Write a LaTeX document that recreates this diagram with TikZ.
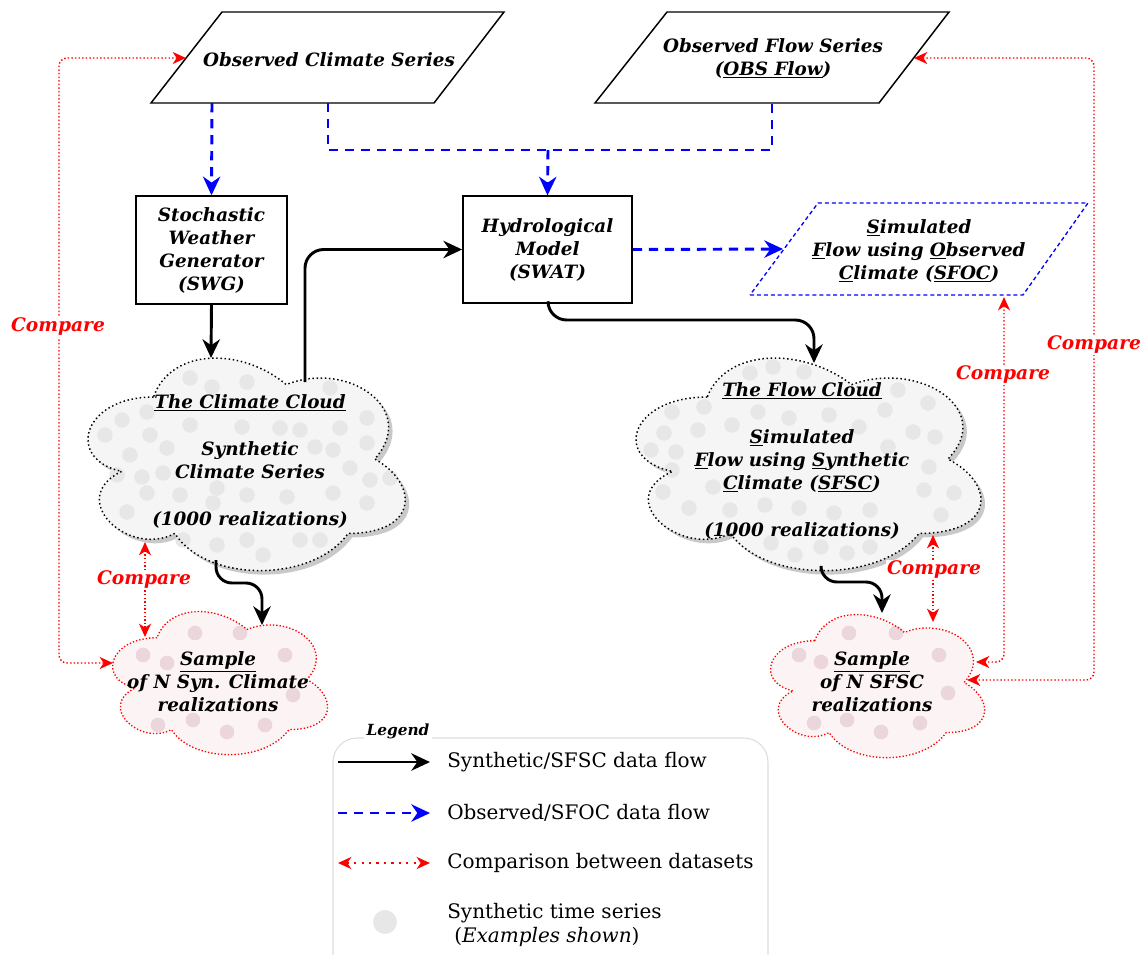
\documentclass[tikz,border=0pt]{standalone}
\usepackage{fontspec}
\setmainfont{DejaVu Serif}
\usetikzlibrary{arrows.meta,calc}
\definecolor{cloudfill}{HTML}{F5F5F5}
\definecolor{blobgray}{HTML}{E7E7E7}
\definecolor{samplefill}{HTML}{FCF4F4}
\definecolor{blobpink}{HTML}{EAD6DB}
\definecolor{legendline}{HTML}{DDDDDD}
\definecolor{cmpred}{HTML}{FF0000}
\definecolor{obsblue}{HTML}{0000FF}
\newcommand\lbl{\fontsize{13.75}{17.25}\selectfont\bfseries\itshape}
\newcommand\cmpfont{\fontsize{14}{17}\selectfont\bfseries\itshape}
\newcommand\lgd{\fontsize{15}{18}\selectfont}
\tikzset{
  cloudpath/.style={insert path={(0.25,0.25) .. controls (0.05,0.25) and (0,0.5) .. (0.16,0.55) .. controls (0,0.66) and (0.18,0.9) .. (0.31,0.8) .. controls (0.4,1) and (0.7,1) .. (0.8,0.8) .. controls (1,0.8) and (1,0.6) .. (0.875,0.5) .. controls (1,0.3) and (0.8,0.1) .. (0.625,0.2) .. controls (0.5,0.05) and (0.3,0.05) .. (0.25,0.25) -- cycle}},
  txt/.style={font=\lbl, align=center, inner sep=1pt},
  box/.style={draw, line width=1.1pt, font=\lbl, align=center, inner sep=2pt},
  para/.style={draw, line width=1.1pt, line join=miter},
  blk/.style={line width=2.2pt, -{Stealth[length=14pt,width=13pt,inset=4.5pt]}},
  blu/.style={draw=obsblue, line width=2.2pt, dash pattern=on 7pt off 5pt},
  bluarr/.style={blu, -{Stealth[length=14pt,width=13pt,inset=4.5pt,fill=obsblue]}},
  cmp/.style={draw=cmpred, line width=1.1pt, dash pattern=on 1.1pt off 1.6pt, rounded corners=6pt,
     {Stealth[length=10pt,width=9pt,inset=3pt,fill=cmpred]}-{Stealth[length=10pt,width=9pt,inset=3pt,fill=cmpred]}},
  cmplbl/.style={font=\cmpfont, text=cmpred, fill=white, inner sep=1pt},
  blob/.style={fill=blobgray},
  pblob/.style={fill=blobpink},
}
\begin{document}
\begin{tikzpicture}[x=0.75pt,y=-0.75pt]
\useasboundingbox (0,0) rectangle (1145,954);

% ---------- top parallelograms ----------
\draw[para] (151,103) -- (434,103) -- (504,12) -- (222,12) -- cycle;
\node[txt] (ocs) at (329,60) {Observed Climate Series};
\draw[para] (595,103) -- (879,103) -- (949,12) -- (667,12) -- cycle;
\node[txt] (ofs) at (773,58) {Observed Flow Series\\(\underline{OBS Flow})};

% ---------- boxes ----------
\node[box, minimum width=113pt, minimum height=81pt] (swg) at (211.5,250) {Stochastic\\Weather\\Generator\\(SWG)};
\node[box, minimum width=127pt, minimum height=80pt] (swat) at (547.5,249.5) {Hydrological\\Model\\(SWAT)};

% ---------- SFOC parallelogram ----------
\draw[draw=obsblue, line width=1pt, dash pattern=on 3pt off 2.2pt] (750,295) -- (1023,295) -- (1088,203) -- (818,203) -- cycle;
\node[txt] (sfoc) at (919,251) {\underline{S}imulated\\\underline{F}low using \underline{O}bserved\\\underline{C}limate (\underline{SFOC})};

% ---------- Climate cloud ----------
\begin{scope}[shift={(69,339)},xscale=354,yscale=248]
  \path[fill=black!30, opacity=0.7, cloudpath];
\end{scope}
\begin{scope}[shift={(65,335)},xscale=354,yscale=248]
  \path[fill=cloudfill, cloudpath];
\end{scope}
\foreach \p in {(190,378),(212,387),(247,382),(330,388),(122,420),(147,412),(190,425),(242,427),(280,428),(300,430),(340,428),(367,418),(105,435),(150,435),(167,448),(130,455),(315,447),(333,450),(367,443),(117,475),(142,477),(163,473),(350,468),(370,480),(390,478),(147,493),(180,495),(217,488),(247,495),(287,497),(333,493),(367,503),(127,512),(213,503),(183,540),(217,545),(247,540),(300,540),(320,540),(263,555)}
  \fill[blob] \p circle[radius=5.8pt];
\begin{scope}[shift={(65,335)},xscale=354,yscale=248]
  \path[draw=black, line width=1.1pt, dash pattern=on 1.1pt off 2pt, cloudpath];
\end{scope}
\node[txt] (ccloud) at (250,461) {\underline{The Climate Cloud}\\[18pt]Synthetic\\Climate Series\\[18pt](1000 realizations)};

% ---------- Flow cloud ----------
\begin{scope}[shift={(615,339)},xscale=385,yscale=248]
  \path[fill=black!30, opacity=0.7, cloudpath];
\end{scope}
\begin{scope}[shift={(611,335)},xscale=385,yscale=248]
  \path[fill=cloudfill, cloudpath];
\end{scope}
\foreach \p in {(750,373),(773,367),(804,372),(898,390),(928,403),(672,412),(704,407),(758,412),(789,418),(829,415),(885,410),(664,433),(698,430),(732,425),(859,427),(913,432),(935,437),(651,450),(676,452),(888,447),(672,470),(713,487),(929,467),(954,493),(663,492),(689,508),(730,510),(765,505),(799,508),(834,513),(870,510),(924,490),(941,515),(771,543),(795,555),(821,547),(847,553),(870,547)}
  \fill[blob] \p circle[radius=5.8pt];
\begin{scope}[shift={(611,335)},xscale=385,yscale=248]
  \path[draw=black, line width=1.1pt, dash pattern=on 1.1pt off 2pt, cloudpath];
\end{scope}
\node[txt] (fcloud) at (802,461) {\underline{The Flow Cloud}\\[18pt]\underline{S}imulated\\\underline{F}low using \underline{S}ynthetic\\\underline{C}limate (\underline{SFSC})\\[18pt](1000 realizations)};

% ---------- Sample clouds ----------
\begin{scope}[shift={(97,596)},xscale=240,yscale=167]
  \path[fill=samplefill, cloudpath];
\end{scope}
\foreach \p in {(195,633),(240,633),(143,655),(167,663),(285,655),(293,695),(158,725),(193,720),(227,732),(265,725)}
  \fill[pblob] \p circle[radius=5.5pt];
\begin{scope}[shift={(97,596)},xscale=240,yscale=167]
  \path[draw=cmpred, line width=1pt, dash pattern=on 1pt off 1.5pt, cloudpath];
\end{scope}
\node[txt] (csample) at (218,682) {\underline{Sample}\\of N Syn. Climate\\realizations};

\begin{scope}[shift={(755,599)},xscale=239,yscale=167]
  \path[fill=samplefill, cloudpath];
\end{scope}
\foreach \p in {(849,633),(896,633),(799,655),(821,662),(939,655),(948,693),(814,723),(847,720),(881,732),(920,723)}
  \fill[pblob] \p circle[radius=5.5pt];
\begin{scope}[shift={(755,599)},xscale=239,yscale=167]
  \path[draw=cmpred, line width=1pt, dash pattern=on 1pt off 1.5pt, cloudpath];
\end{scope}
\node[txt] (fsample) at (872,682) {\underline{Sample}\\of N SFSC\\realizations};

% ---------- named coordinates ----------
\coordinate (ocsA) at (212,103);
\coordinate (ocsB) at (328,103);
\coordinate (ofsB) at (772,103);
\coordinate (obsJ) at (548,150);
\coordinate (ccTop) at (211,358);
\coordinate (ccOut) at (305,382);
\coordinate (sfocL) at (783,249);
\coordinate (fcTop) at (814,363);
\coordinate (ccBot) at (216,560);
\coordinate (csTop) at (262,625);
\coordinate (fcBot) at (821,570);
\coordinate (fsTop) at (882,613);
\coordinate (ocsL) at (186,58);
\coordinate (csL) at (113,663);
\coordinate (ofsR) at (914,58);
\coordinate (fsR1) at (967,680);
\coordinate (fsR2) at (976,662);
\coordinate (sfocB) at (1004,297);
\coordinate (ccB2) at (145,542);
\coordinate (csT2) at (145,637);
\coordinate (fcB2) at (933,535);
\coordinate (fsT2) at (933,622);

% ---------- blue data flow ----------
\draw[bluarr] (ocsA) -- (swg.north);
\draw[blu] (ocsB) |- (ofsB |- obsJ) -- (ofsB);
\draw[bluarr] (obsJ) -- (swat.north);
\draw[bluarr] (swat.east) -- (sfocL);

% ---------- black data flow ----------
\draw[blk] (swg.south) -- (ccTop);
\draw[blk, rounded corners=14pt] (ccOut) |- (swat.west);
\draw[blk, rounded corners=14pt] (swat.south -| obsJ) |- (fcTop |- 0,320) -- (fcTop);
\draw[blk, rounded corners=12pt] (ccBot) |- (csTop |- 0,583) -- (csTop);
\draw[blk, rounded corners=12pt] (fcBot) |- (fsTop |- 0,582) -- (fsTop);

% ---------- comparisons ----------
\draw[cmp] (ocsL) -- (59,58) -- (59,663) -- (csL);
\draw[cmp] (ofsR) -- (1094,58) -- (1094,680) -- (fsR1);
\draw[cmp] (sfocB) -- (1004,662) -- (fsR2);
\draw[cmp] (ccB2) -- (csT2);
\draw[cmp] (fcB2) -- (fsT2);
\node[cmplbl] (c1) at (58,327) {Compare};
\node[cmplbl] (c2) at (1094,345) {Compare};
\node[cmplbl] (c3) at (1003,375) {Compare};
\node[cmplbl] (c4) at (144,580) {Compare};
\node[cmplbl] (c5) at (934,570) {Compare};

% ---------- legend ----------
\draw[legendline, line width=0.8pt, rounded corners=18pt] (333,738) rectangle (768,1000);
\node[font=\fontsize{11.5}{13}\selectfont\bfseries\itshape, fill=white, inner sep=2pt] (lgdtitle) at (398,731) {Legend};
\coordinate (l1a) at (338,762); \coordinate (l1b) at (430,762);
\coordinate (l2a) at (338,813); \coordinate (l2b) at (430,813);
\coordinate (l3a) at (338,863); \coordinate (l3b) at (430,863);
\draw[blk] (l1a) -- (l1b);
\draw[bluarr] (l2a) -- (l2b);
\draw[cmp, line width=1.6pt, dash pattern=on 1.6pt off 4pt] (l3a) -- (l3b);
\fill[blobgray] (385,922) circle[radius=9pt];
\node[font=\lgd, anchor=west, inner sep=0pt] (lt1) at (447,762) {Synthetic/SFSC data flow};
\node[font=\lgd, anchor=west, inner sep=0pt] (lt2) at (447,813) {Observed/SFOC data flow};
\node[font=\lgd, anchor=west, inner sep=0pt] (lt3) at (447,863) {Comparison between datasets};
\node[font=\lgd, anchor=west, inner sep=0pt, align=left] (lt4) at (447,925) {Synthetic time series\\\hspace{0.35em}(\textit{Examples shown})};
\end{tikzpicture}
\end{document}
